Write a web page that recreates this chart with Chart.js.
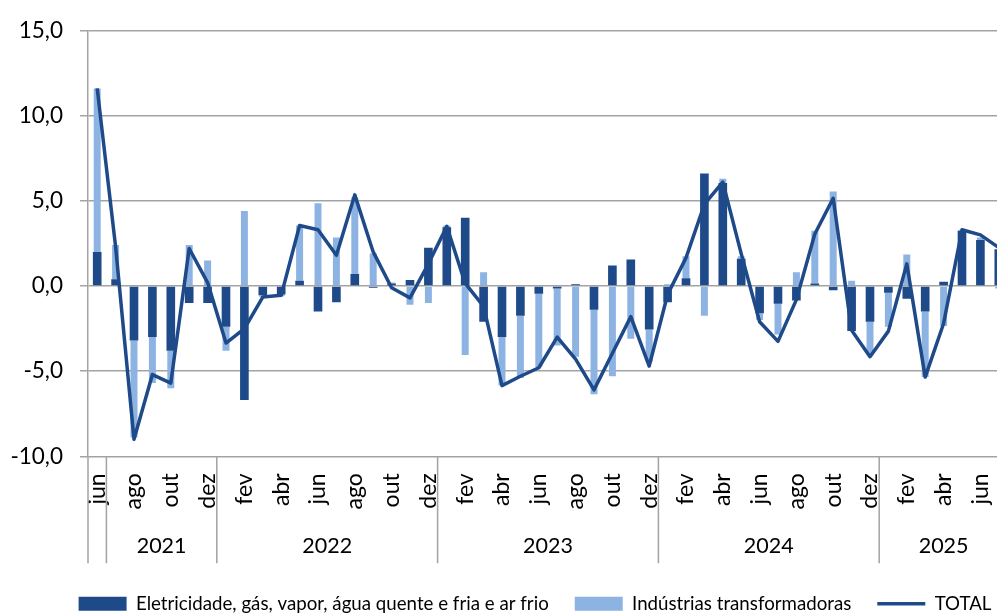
<!DOCTYPE html>
<html>
<head>
<meta charset="utf-8">
<script src="https://cdn.jsdelivr.net/npm/chart.js@4.4.0/dist/chart.umd.min.js"></script>
<style>
  html, body { margin: 0; padding: 0; overflow: hidden; background: #fff; }
  #wrap { width: 997px; height: 613px; overflow: hidden; }
</style>
</head>
<body>
<div id="wrap"><canvas id="myChart" width="1070" height="623"></canvas></div>
<script>
// categories (jun 2021 .. jul 2025)
const months = [
    'jun', 'jul', 'ago', 'set', 'out', 'nov', 'dez',
    'jan', 'fev', 'mar', 'abr', 'mai', 'jun', 'jul', 'ago', 'set', 'out', 'nov', 'dez',
    'jan', 'fev', 'mar', 'abr', 'mai', 'jun', 'jul', 'ago', 'set', 'out', 'nov', 'dez',
    'jan', 'fev', 'mar', 'abr', 'mai', 'jun', 'jul', 'ago', 'set', 'out', 'nov', 'dez',
    'jan', 'fev', 'mar', 'abr', 'mai', 'jun', 'jul'
];
const years = ['', '2021', '2022', '2023', '2024', '2025'];
const yearStarts = [0, 1, 7, 19, 31, 43];

// series
const eletricidade = [
    2.0, 0.4, -3.2, -3.0, -3.8, -1.0, -1.0,
    -2.4, -6.7, -0.55, -0.5, 0.3, -1.5, -0.95, 0.7, -0.1, 0.15, 0.35, 2.25,
    3.45, 4.0, -2.1, -3.0, -1.75, -0.45, -0.15, 0.1, -1.4, 1.2, 1.55, -2.55,
    -0.95, 0.45, 6.6, 6.05, 1.6, -1.6, -1.05, -0.85, 0.15, -0.25, -2.65, -2.1,
    -0.4, -0.75, -1.5, 0.25, 3.25, 2.7, 2.15
];
const industrias = [
    9.6, 2.0, -5.7, -2.7, -2.2, 2.4, 1.5,
    -1.4, 4.4, -0.1, -0.1, 3.25, 4.85, 2.85, 4.5, 1.9, 0.05, -1.1, -1.0,
    0.1, -4.05, 0.8, -2.85, -3.65, -4.3, -3.35, -4.15, -4.95, -5.3, -3.1, -1.9,
    0.1, 1.3, -1.75, 0.25, 0.15, -0.4, -1.8, 0.8, 3.1, 5.55, 0.3, -1.9,
    -2.0, 1.85, -3.85, -2.35, 0.05, 0.15, -0.15
];
const total = [
    11.6, 2.3, -9.0, -5.2, -5.7, 2.2, 0.2,
    -3.35, -2.5, -0.65, -0.55, 3.55, 3.3, 1.8, 5.35, 2.0, -0.1, -0.7, 1.3,
    3.5, 0.15, -1.2, -5.85, -5.3, -4.8, -3.0, -4.3, -6.1, -3.95, -1.8, -4.7,
    -0.5, 1.65, 4.8, 6.1, 1.9, -2.1, -3.25, -0.8, 3.05, 5.15, -2.6, -4.15,
    -2.65, 1.3, -5.35, -2.2, 3.3, 3.0, 2.25
];

// value axis
const yMin = -10;
const yMax = 15;
const yStep = 5;

const darkBlue = '#1F4A89';
const lightBlue = '#8DB3E3';
const gridColor = '#a3a3a3';

// year row and separators under the month labels
const yearRows = {
    id: 'yearRows',
    afterDraw: function (chart) {
        const ctx = chart.ctx;
        const xs = chart.scales.x;
        const area = chart.chartArea;
        const half = (xs.getPixelForValue(1) - xs.getPixelForValue(0)) / 2;
        const bottom = area.bottom + 107;
        ctx.save();
        ctx.strokeStyle = gridColor;
        ctx.lineWidth = 1.5;
        ctx.beginPath();
        ctx.moveTo(area.left, area.bottom);
        ctx.lineTo(area.left, bottom);
        yearStarts.forEach(function (s) {
            if (s > 0) {
                const bx = xs.getPixelForValue(s) - half;
                ctx.moveTo(bx, area.bottom);
                ctx.lineTo(bx, bottom);
            }
        });
        ctx.stroke();
        ctx.fillStyle = '#000';
        ctx.font = '21.5px Lato';
        ctx.textAlign = 'center';
        ctx.textBaseline = 'middle';
        years.forEach(function (y, k) {
            const from = yearStarts[k];
            const to = k + 1 < yearStarts.length ? yearStarts[k + 1] : months.length;
            const cx = (xs.getPixelForValue(from) + xs.getPixelForValue(to - 1)) / 2;
            ctx.fillText(y, cx, area.bottom + 90);
        });
        ctx.restore();
    }
};

Chart.defaults.font.family = 'Lato';
Chart.defaults.color = '#000';

var ctx = document.getElementById('myChart').getContext('2d');
new Chart(ctx, {
    data: {
        labels: months,
        datasets: [{
            type: 'bar',
            label: 'Eletricidade, gás, vapor, água quente e fria e ar frio',
            data: eletricidade,
            backgroundColor: darkBlue,
            stack: 'bars',
            order: 1,
            barPercentage: 0.47,
            categoryPercentage: 1
        }, {
            type: 'bar',
            label: 'Indústrias transformadoras',
            data: industrias,
            backgroundColor: lightBlue,
            stack: 'bars',
            order: 2,
            barPercentage: 0.38,
            categoryPercentage: 1
        }, {
            type: 'line',
            label: 'TOTAL',
            data: total,
            borderColor: darkBlue,
            borderWidth: 3.5,
            borderJoinStyle: 'round',
            pointRadius: 0,
            tension: 0,
            stack: 'total',
            order: 0
        }]
    },
    options: {
        responsive: false,
        animation: false,
        layout: { padding: { top: 26, left: 0, right: 0, bottom: 0 } },
        plugins: {
            tooltip: { enabled: false },
            legend: {
                position: 'bottom',
                labels: {
                    usePointStyle: true,
                    pointStyleWidth: 48,
                    boxHeight: 14,
                    padding: 26,
                    font: { size: 18.7 },
                    sort: function (a, b) { return a.datasetIndex - b.datasetIndex; },
                    generateLabels: function (chart) {
                        var items = Chart.defaults.plugins.legend.labels.generateLabels(chart);
                        items.forEach(function (it) {
                            if (it.datasetIndex === 2) {
                                it.pointStyle = 'line';
                                it.lineWidth = 3.5;
                                it.strokeStyle = darkBlue;
                            } else {
                                it.pointStyle = 'rect';
                                it.lineWidth = 0;
                            }
                        });
                        return items;
                    }
                }
            }
        },
        scales: {
            x: {
                stacked: true,
                grid: { display: false, drawTicks: false },
                border: { display: false },
                ticks: {
                    autoSkip: false,
                    minRotation: 90,
                    maxRotation: 90,
                    padding: 17,
                    font: { size: 23 },
                    callback: function (val, idx) { return idx % 2 === 0 ? months[idx] : ''; }
                },
                afterFit: function (s) { s.height = 112; }
            },
            y: {
                stacked: true,
                min: yMin,
                max: yMax,
                grid: { color: gridColor, lineWidth: 1.5, tickLength: 8 },
                border: { display: true, color: gridColor, width: 1.5 },
                ticks: {
                    stepSize: yStep,
                    padding: 17,
                    font: { size: 22.5 },
                    callback: function (v) { return v.toFixed(1).replace('.', ','); }
                },
                afterFit: function (s) { s.width = 88; }
            },
            yRight: {
                position: 'right',
                grid: { display: false },
                border: { display: false },
                ticks: { display: false },
                afterFit: function (s) { s.width = 62; }
            }
        }
    },
    plugins: [yearRows]
});
</script>
</body>
</html>
